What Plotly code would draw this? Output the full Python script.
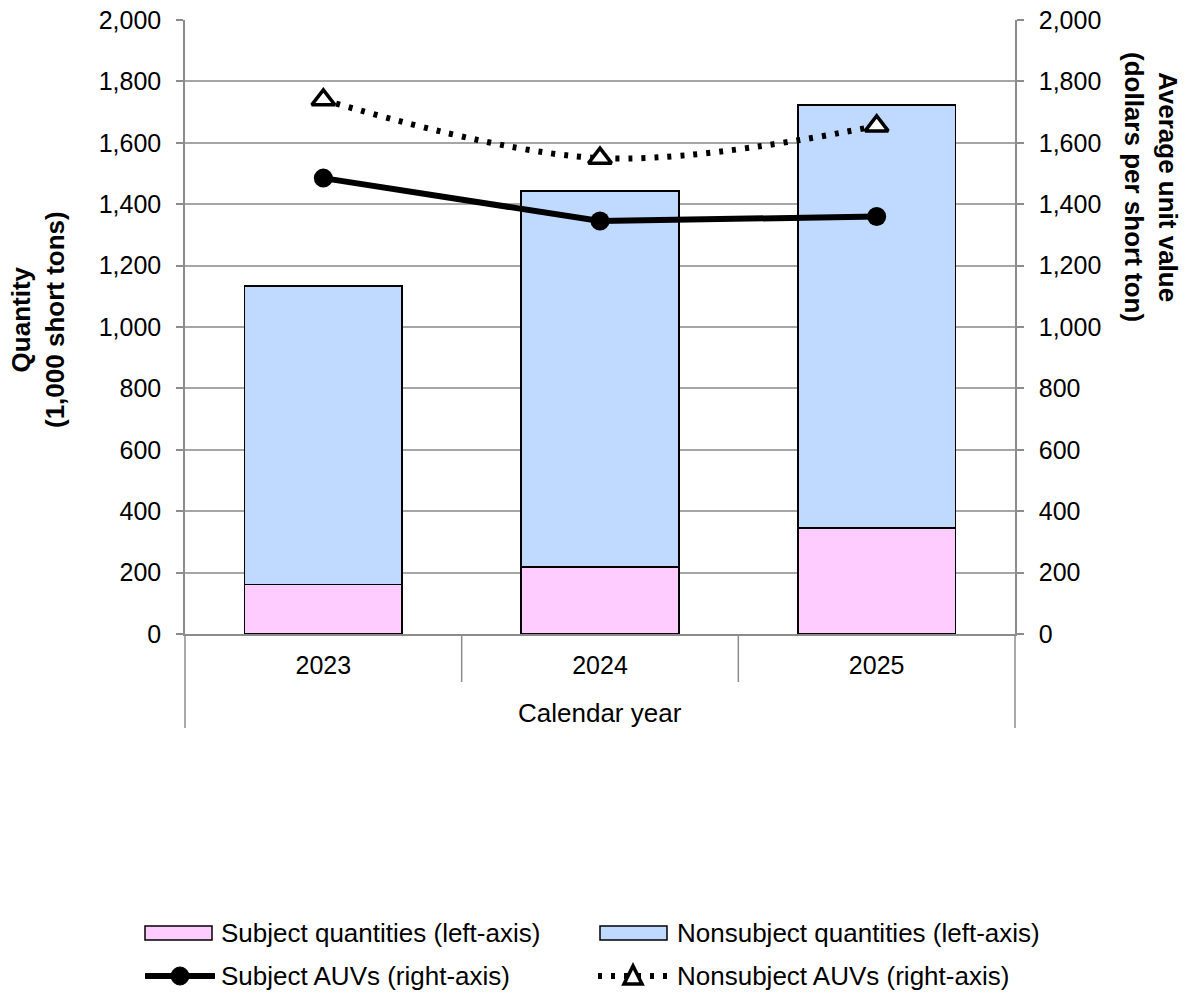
import plotly.graph_objects as go

# Calendar years and series values
years = ["2023", "2024", "2025"]
subject_qty = [162, 218, 345]            # 1,000 short tons
nonsubject_qty = [971, 1225, 1378]       # 1,000 short tons (stacked on subject)
subject_auv = [1485, 1345, 1360]         # dollars per short ton
nonsubject_auv = [1740, 1550, 1655]      # dollars per short ton

y_ticks = list(range(0, 2001, 200))

FONT = "Liberation Sans, Arial, sans-serif"
GRID = "#a6a6a6"
AXIS = "#8c8c8c"
PINK = "#FFCCFF"
BLUE = "#BFD9FF"
TXT = 26
TICK = 25

# plot-area pixel geometry used to express layout items in paper units
L, R, T, B = 185, 1015, 20, 634
PW, PH = R - L, B - T


def px(xp):
    return (xp - L) / PW


def py(yp):
    return (B - yp) / PH


DOTS = "4px,9px"

fig = go.Figure()

fig.add_trace(go.Bar(
    x=years, y=subject_qty, name="Subject quantities (left-axis)",
    marker=dict(color=PINK, line=dict(color="black", width=1.5)),
    width=0.57, showlegend=False,
))
fig.add_trace(go.Bar(
    x=years, y=nonsubject_qty, name="Nonsubject quantities (left-axis)",
    marker=dict(color=BLUE, line=dict(color="black", width=1.5)),
    width=0.57, showlegend=False,
))
fig.add_trace(go.Scatter(
    x=years, y=subject_auv, yaxis="y2", mode="lines+markers",
    name="Subject AUVs (right-axis)",
    line=dict(color="black", width=6),
    marker=dict(symbol="circle", size=19, color="black"),
    showlegend=False,
))
fig.add_trace(go.Scatter(
    x=years, y=nonsubject_auv, yaxis="y2", mode="lines+markers",
    name="Nonsubject AUVs (right-axis)",
    line=dict(color="black", width=6, dash=DOTS, shape="spline", smoothing=1),
    marker=dict(symbol="triangle-up", size=20, color="white",
                line=dict(color="black", width=3.5)),
    showlegend=False,
))

shapes = []
# category dividers and outer frame of the category axis
for xb in (0.5, 1.5):
    shapes.append(dict(type="line", xref="x", yref="paper", x0=xb, x1=xb,
                       y0=0, y1=py(682), line=dict(color=AXIS, width=1.5)))
for xe in (0, 1):
    shapes.append(dict(type="line", xref="paper", yref="paper", x0=xe, x1=xe,
                       y0=0, y1=py(728), line=dict(color=AXIS, width=1.5)))

# legend swatches
row1, row2 = 933, 976
for x0, color in ((145, PINK), (600, BLUE)):
    shapes.append(dict(type="rect", xref="paper", yref="paper",
                       x0=px(x0), x1=px(x0 + 67), y0=py(row1 - 7), y1=py(row1 + 7),
                       fillcolor=color, line=dict(color="black", width=1.5)))
shapes.append(dict(type="line", xref="paper", yref="paper",
                   x0=px(145), x1=px(215), y0=py(row2), y1=py(row2),
                   line=dict(color="black", width=6)))
shapes.append(dict(type="circle", xref="paper", yref="paper",
                   xsizemode="pixel", ysizemode="pixel",
                   xanchor=px(180), yanchor=py(row2),
                   x0=-9, x1=9, y0=-9, y1=9,
                   fillcolor="black", line=dict(color="black", width=1)))
shapes.append(dict(type="line", xref="paper", yref="paper",
                   x0=px(598), x1=px(668), y0=py(row2), y1=py(row2),
                   line=dict(color="black", width=6, dash=DOTS)))
shapes.append(dict(type="path", xref="paper", yref="paper",
                   xsizemode="pixel", ysizemode="pixel",
                   xanchor=px(633), yanchor=py(row2),
                   path="M-9,-8 L9,-8 L0,10 Z",
                   fillcolor="white", line=dict(color="black", width=3.5)))

annotations = [
    dict(text="<b>Quantity<br>(1,000 short tons)</b>", xref="paper", yref="paper",
         x=px(38), y=py(320), xanchor="center", yanchor="middle",
         showarrow=False, textangle=-90,
         font=dict(family=FONT, size=TXT, color="black")),
    dict(text="<b>Average unit value<br>(dollars per short ton)</b>", xref="paper",
         yref="paper", x=px(1151), y=py(187), xanchor="center", yanchor="middle",
         showarrow=False, textangle=90,
         font=dict(family=FONT, size=TXT, color="black")),
    dict(text="Calendar year", xref="paper", yref="paper", x=0.5, y=py(713),
         xanchor="center", yanchor="middle",
         showarrow=False, font=dict(family=FONT, size=TXT, color="black")),
]
legend_text = [
    (219, row1, "Subject quantities (left-axis)"),
    (675, row1, "Nonsubject quantities (left-axis)"),
    (219, row2, "Subject AUVs (right-axis)"),
    (675, row2, "Nonsubject AUVs (right-axis)"),
]
for x0, y0, txt in legend_text:
    annotations.append(dict(text=txt, xref="paper", yref="paper", x=px(x0), y=py(y0),
                            xanchor="left", yanchor="middle", showarrow=False,
                            font=dict(family=FONT, size=TXT, color="black")))

fig.update_layout(
    width=1185, height=995,
    margin=dict(l=L, r=1185 - R, t=T, b=995 - B, pad=0, autoexpand=False),
    paper_bgcolor="white", plot_bgcolor="white",
    barmode="stack", bargap=0.43,
    font=dict(family=FONT, size=TICK, color="black"),
    xaxis=dict(
        type="category", range=[-0.5, 2.5], automargin=False,
        showline=True, linecolor=AXIS, linewidth=1.5,
        ticks="outside", ticklen=8, tickcolor="rgba(0,0,0,0)",
        tickfont=dict(family=FONT, size=TICK, color="black"),
        showgrid=False, zeroline=False,
    ),
    yaxis=dict(
        range=[0, 2000], tickvals=y_ticks, tickformat=",", automargin=False,
        showline=True, linecolor=AXIS, linewidth=1.5,
        ticks="outside", ticklen=7, tickcolor=AXIS, tickwidth=1.5,
        ticklabelstandoff=10,
        showgrid=True, gridcolor=GRID, gridwidth=1.5, zeroline=False,
        tickfont=dict(family=FONT, size=TICK, color="black"),
    ),
    yaxis2=dict(
        range=[0, 2000], tickvals=y_ticks, tickformat=",", automargin=False,
        overlaying="y", side="right",
        showline=True, linecolor=AXIS, linewidth=1.5,
        ticks="outside", ticklen=7, tickcolor=AXIS, tickwidth=1.5,
        ticklabelstandoff=10,
        showgrid=False, zeroline=False,
        tickfont=dict(family=FONT, size=TICK, color="black"),
    ),
    shapes=shapes,
    annotations=annotations,
    showlegend=False,
)

fig.write_html("out.html")
